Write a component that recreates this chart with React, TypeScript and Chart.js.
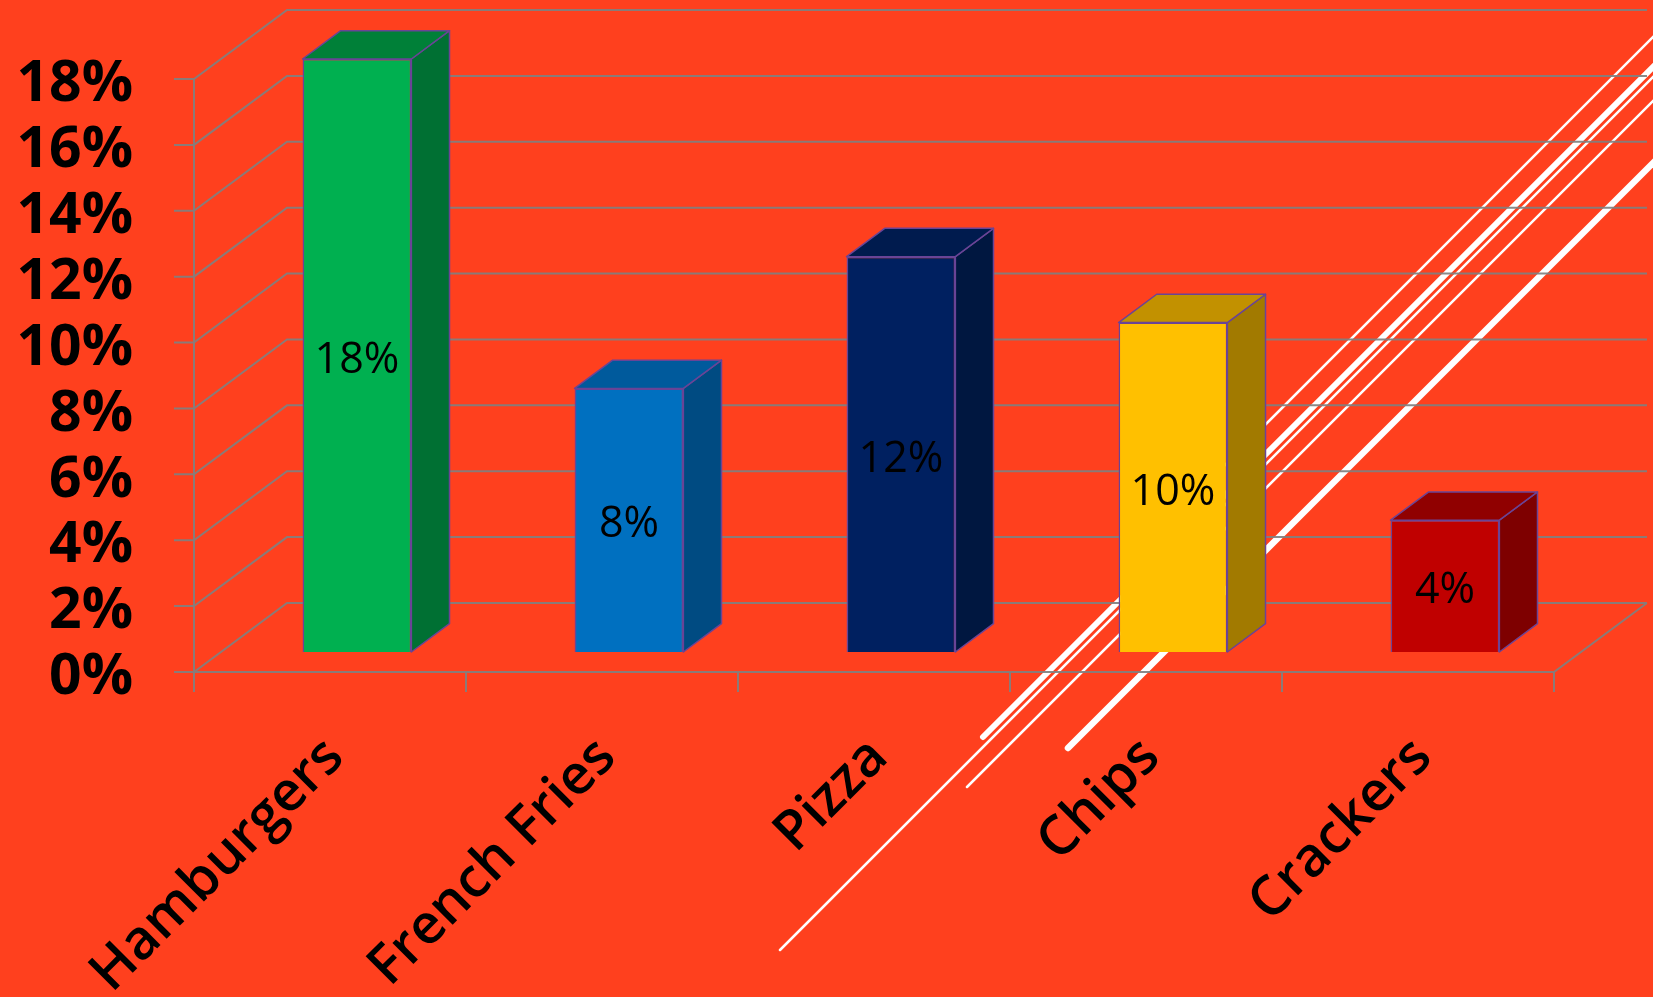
import React, { useEffect, useRef } from "react";
import { Chart, registerables } from "chart.js";

Chart.register(...registerables);

// ---- data ----
const categories = ["Hamburgers", "French Fries", "Pizza", "Chips", "Crackers"];
const shares = [18, 8, 12, 10, 4];
const yMin = 0;
const yMax = 18;
const yStep = 2;

// ---- styles ----
const frontColors = ["#00B050", "#0070C0", "#002060", "#FFC000", "#C00000"];
const sideColors = ["#007033", "#004B82", "#001740", "#A27A00", "#7E0000"];
const topColors = ["#008038", "#005A9C", "#001B4E", "#C29100", "#900000"];
const BAR_BORDER = "#6A4496";
const BG = "rgb(255,64,30)";
const GRID = "rgba(128,128,128,0.92)";
const DEPTH = { dx: 93, dy: -69 };
const BAR_FRONT = 0.29;
const BAR_DEPTH = 0.41;

// decorative background strokes of the slide (not data)
const decoLines = [
  { x0: 1180, y0: 510, w: 2.5 },
  { x0: 983, y0: 737, w: 6 },
  { x0: 780, y0: 950, w: 2.5 },
  { x0: 967, y0: 787, w: 2.5 },
  { x0: 1068, y0: 748, w: 6.5 },
];

const threeD = {
  id: "threeD",
  beforeDraw(chart: any) {
    const ctx = chart.ctx;
    ctx.save();
    ctx.fillStyle = BG;
    ctx.fillRect(0, 0, chart.width, chart.height);
    ctx.strokeStyle = "#FFFFFF";
    ctx.lineCap = "round";
    for (const l of decoLines) {
      ctx.lineWidth = l.w;
      ctx.beginPath();
      ctx.moveTo(l.x0, l.y0);
      const t = l.y0 + 40;
      ctx.lineTo(l.x0 + t, l.y0 - t);
      ctx.stroke();
    }
    ctx.restore();
  },
  beforeDatasetsDraw(chart: any) {
    const { ctx, chartArea: a, scales } = chart;
    const x = scales.x;
    const y = scales.y;
    const { dx, dy } = DEPTH;
    ctx.save();
    ctx.strokeStyle = GRID;
    ctx.lineWidth = 2;
    ctx.beginPath();
    for (const t of y.ticks) {
      const py = y.getPixelForValue(t.value);
      ctx.moveTo(a.left - 20, py);
      ctx.lineTo(a.left, py);
      ctx.lineTo(a.left + dx, py + dy);
      ctx.lineTo(a.right + dx, py + dy);
    }
    ctx.moveTo(a.left, y.getPixelForValue(yMax));
    ctx.lineTo(a.left, a.bottom);
    ctx.lineTo(a.right, a.bottom);
    ctx.lineTo(a.right + dx, a.bottom + dy);
    for (let i = 0; i <= categories.length; i++) {
      const px = x.getPixelForValue(i - 0.5);
      ctx.moveTo(px, a.bottom);
      ctx.lineTo(px, a.bottom + 20);
    }
    ctx.stroke();
    ctx.restore();
    ctx.save();
    ctx.translate(dx * BAR_FRONT, dy * BAR_FRONT);
  },
  afterDatasetsDraw(chart: any) {
    const ctx = chart.ctx;
    const meta = chart.getDatasetMeta(0);
    const ddx = DEPTH.dx * BAR_DEPTH;
    const ddy = DEPTH.dy * BAR_DEPTH;
    meta.data.forEach((bar: any, i: number) => {
      const { x, y, base, width } = bar.getProps(["x", "y", "base", "width"], true);
      const l = x - width / 2;
      const r = x + width / 2;
      ctx.lineWidth = 1.5;
      ctx.strokeStyle = BAR_BORDER;
      ctx.lineJoin = "round";
      // side
      ctx.beginPath();
      ctx.moveTo(r, y);
      ctx.lineTo(r + ddx, y + ddy);
      ctx.lineTo(r + ddx, base + ddy);
      ctx.lineTo(r, base);
      ctx.closePath();
      ctx.fillStyle = sideColors[i];
      ctx.fill();
      ctx.stroke();
      // top
      ctx.beginPath();
      ctx.moveTo(l, y);
      ctx.lineTo(l + ddx, y + ddy);
      ctx.lineTo(r + ddx, y + ddy);
      ctx.lineTo(r, y);
      ctx.closePath();
      ctx.fillStyle = topColors[i];
      ctx.fill();
      ctx.stroke();
      // value label
      ctx.fillStyle = "#000000";
      ctx.font = "43px 'Open Sans'";
      ctx.textAlign = "center";
      ctx.textBaseline = "middle";
      ctx.fillText(shares[i] + "%", x, (y + base) / 2 + 5);
    });
    ctx.restore();
  },
};

export default function App() {
  const ref = useRef<HTMLCanvasElement | null>(null);
  useEffect(() => {
    if (!ref.current) return;
    const chart = new Chart(ref.current, {
      type: "bar",
      data: {
        labels: categories,
        datasets: [
          {
            data: shares,
            backgroundColor: frontColors,
            borderColor: BAR_BORDER,
            borderWidth: 1.5,
            categoryPercentage: 1,
            barPercentage: 0.4,
            clip: false as any,
          },
        ],
      },
      options: {
        animation: false,
        responsive: false,
        devicePixelRatio: 1,
        layout: { padding: { top: 79, right: 99, left: 0, bottom: 0 } },
        plugins: { legend: { display: false }, tooltip: { enabled: false } },
        scales: {
          x: {
            grid: { display: false, drawTicks: false },
            border: { display: false },
            ticks: {
              color: "#000000",
              font: { family: "'Open Sans'", size: 55, weight: "600" },
              minRotation: 45,
              maxRotation: 45,
              autoSkip: false,
              padding: 53,
              labelOffset: 5,
            },
            afterFit: (s: any) => {
              s.height = 325;
            },
          },
          y: {
            min: yMin,
            max: yMax,
            grid: { display: false, drawTicks: true, tickLength: 61 },
            border: { display: false },
            ticks: {
              stepSize: yStep,
              autoSkip: false,
              color: "#000000",
              font: { family: "'Open Sans'", size: 57, weight: "bold" },
              padding: 0,
              labelOffset: 6,
              callback: (v: any) => v + "%",
            },
            afterFit: (s: any) => {
              s.width = 194;
            },
          },
        },
      },
      plugins: [threeD],
    });
    return () => chart.destroy();
  }, []);
  return (
    <div style={{ position: "fixed", left: 0, top: 0, width: 1653, height: 997, background: BG }}>
      <canvas ref={ref} width={1653} height={997} style={{ display: "block" }} />
    </div>
  );
}
